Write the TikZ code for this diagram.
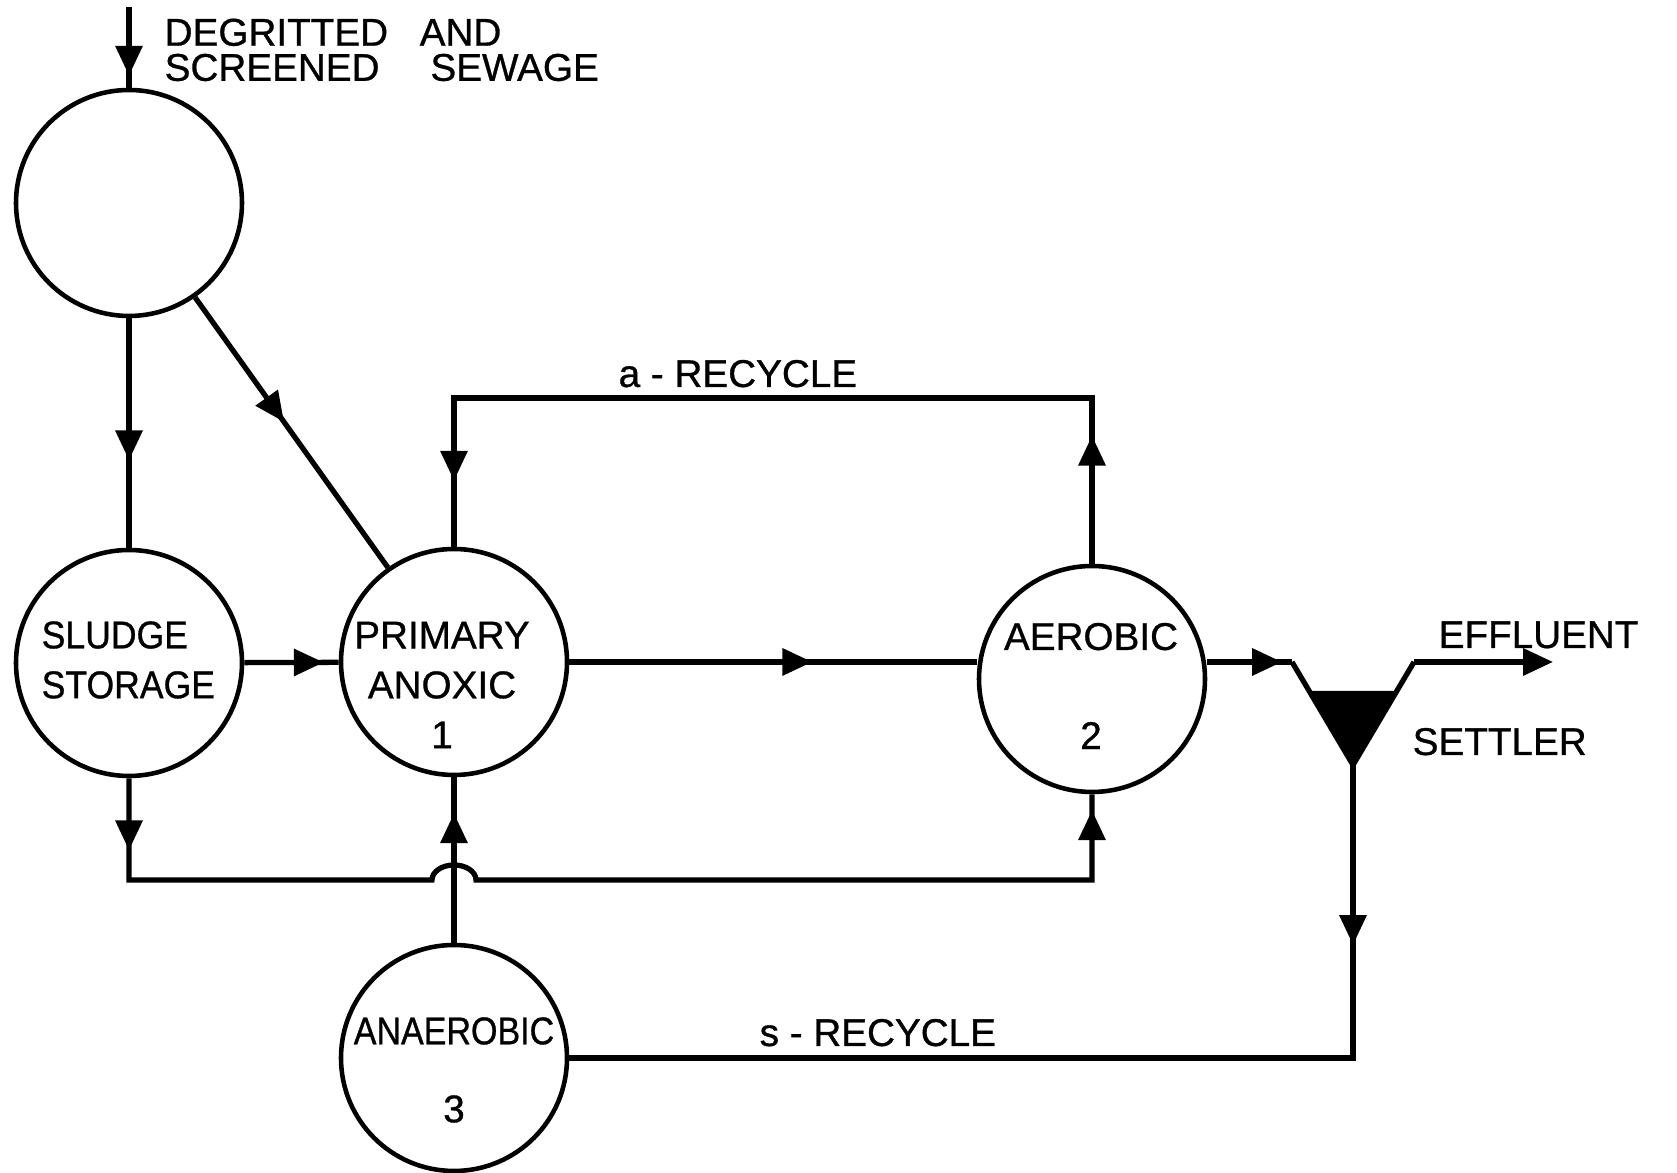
\documentclass[tikz,border=0pt]{standalone}
\usepackage{fontspec}
\setmainfont{Liberation Sans}[FakeBold=0.8]
\newfontfamily\narrowfont{Liberation Sans}[FakeStretch=0.88, FakeBold=0.8]
\newfontfamily\slimfont{Liberation Sans}[FakeStretch=0.92, FakeBold=0.8]
\usetikzlibrary{calc, positioning, arrows.meta, decorations.markings}

\tikzset{
  tank/.style={draw, circle, line width=1.3pt, minimum size=2.26cm, inner sep=0pt},
  pipe/.style={line width=1.5pt},
  txt/.style={font=\fontsize{11}{14.2}\selectfont, inner sep=0pt, align=center},
  arrowat/.style={postaction={decorate, decoration={markings,
      mark=at position #1 with {\arrow{Triangle[length=8.5pt,width=7.5pt]}}}}},
}

\begin{document}
\begin{tikzpicture}
  \useasboundingbox (0,0) rectangle (16.77,11.73);
  % tanks
  \node[tank] (screen) at (1.29,9.70) {};
  \node[tank] (sludge) at (1.29,5.10) {};
  \node[tank] (primary) at (4.54,5.11) {};
  \node[tank] (aerobic) at (10.92,4.94) {};
  \node[tank] (anaerobic) at (4.54,1.15) {};
  \node[txt, align=left, anchor=west, font=\slimfont\fontsize{11}{14.2}\selectfont]
    (sludgetxt) at (0.41,5.13) {SLUDGE\\STORAGE};
  \node[txt] (primarytxt) at (4.42,4.88) {PRIMARY\\ANOXIC\\1};
  \node[txt] (aerobictxt) at (10.91,4.87) {AEROBIC\\[14pt]2};
  \node[txt] (anaerobictxt) at (4.54,1.03) {{\narrowfont ANAEROBIC}\\[8pt]3};

  % settler
  \coordinate (setl) at (12.92,5.11);
  \coordinate (setr) at (14.14,5.11);
  \coordinate (seta) at (13.53,4.08);
  \fill ($(setl)!0.28!(seta)$) -- (seta) -- ($(setr)!0.28!(seta)$) -- cycle;
  \draw[pipe] (setl) -- (seta) -- (setr);
  \node[txt, anchor=base west] (settlertxt) at (14.12,4.18) {SETTLER};

  % feed
  \coordinate (feed) at (1.29,11.66);
  \node[txt, align=left, anchor=north west, font=\fontsize{11}{10}\selectfont]
    (feedtxt) at (1.64,11.55) {DEGRITTED\hspace{9pt}AND\\SCREENED\hspace{14.5pt}SEWAGE};
  \draw[pipe, arrowat=-0.12cm] (feed) -- (screen);
  \draw[pipe, arrowat=1.42cm] (screen) -- (sludge);
  \draw[pipe, arrowat=1.53cm] (screen.305) -- (primary.125);
  \draw[pipe, arrowat=-0.15cm] (sludge) -- (primary);
  \draw[pipe, arrowat=2.43cm] (primary.east) -- (primary.east -| aerobic.west);

  % a-recycle
  \coordinate (arec) at (0,7.75);
  \draw[pipe, arrowat=1.28cm, arrowat=-0.66cm] (aerobic.north) -- (aerobic.north |- arec)
    -- (primary.north |- arec) -- (primary.north);
  \node[txt, anchor=base west] (arectxt) at (6.18,7.86) {a - RECYCLE};

  % sludge to aerobic, hopping over the anaerobic line
  \coordinate (bot) at (0,2.93);
  \draw[pipe, arrowat=0.72cm, arrowat=-0.16cm] (sludge.south) |- ($(primary.south |- bot)+(-0.22,0)$)
    arc[start angle=180, end angle=0, x radius=0.22cm, y radius=0.15cm] -| (aerobic.south);
  \draw[pipe, arrowat=-0.36cm] (anaerobic) -- (primary);

  % settler in and out
  \draw[pipe, arrowat=-0.1cm] (aerobic.east |- setl) -- (setl);
  \coordinate (eff) at (15.53,5.11);
  \draw[pipe, -{Triangle[length=8.5pt,width=7.5pt]}] (setr) -- (eff);
  \node[txt, anchor=base west] (efftxt) at (14.38,5.25) {EFFLUENT};

  % s-recycle
  \draw[pipe, arrowat=1.80cm] (seta) |- (anaerobic.east);
  \node[txt, anchor=base west] (srectxt) at (7.59,1.27) {s - RECYCLE};
\end{tikzpicture}
\end{document}
